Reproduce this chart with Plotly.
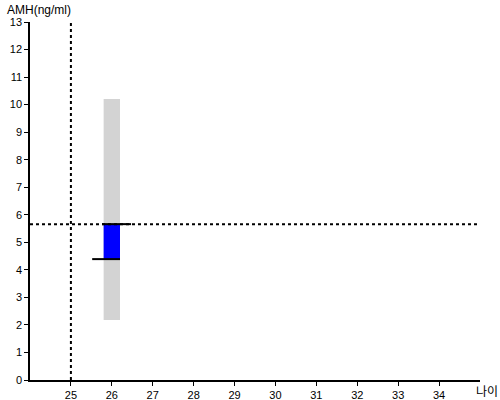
import plotly.graph_objects as go

# AMH chart data
ages = [26]
ref_low = [2.18]
ref_high = [10.2]
amh_low = [4.39]
amh_high = [5.66]

current_age = 25
current_amh = 5.66

# short marker lines at the top and bottom of the blue bar
top_line_x = [25.76, 26.47]
top_line_y = [5.66, 5.66]
bottom_line_x = [25.52, 26.2]
bottom_line_y = [4.39, 4.39]

x_ticks = list(range(25, 35))
y_ticks = list(range(0, 14))

fig = go.Figure()

# reference range (grey)
fig.add_trace(go.Bar(x=ages, y=[h - l for h, l in zip(ref_high, ref_low)], base=ref_low,
                     width=0.4, marker=dict(color='#d3d3d3', line=dict(width=0)),
                     showlegend=False, hoverinfo='skip'))
# own range (blue)
fig.add_trace(go.Bar(x=ages, y=[h - l for h, l in zip(amh_high, amh_low)], base=amh_low,
                     width=0.4, marker=dict(color='#0000ff', line=dict(width=0)),
                     showlegend=False, hoverinfo='skip'))

fig.add_trace(go.Scatter(x=top_line_x, y=top_line_y, mode='lines',
                         line=dict(color='black', width=2), showlegend=False))
fig.add_trace(go.Scatter(x=bottom_line_x, y=bottom_line_y, mode='lines',
                         line=dict(color='black', width=2), showlegend=False))

# dotted guide lines
fig.add_trace(go.Scatter(x=[current_age, current_age], y=[0, 13], mode='lines',
                         line=dict(color='black', width=2, dash='dot'), showlegend=False))
fig.add_trace(go.Scatter(x=[24, 35], y=[current_amh, current_amh], mode='lines',
                         line=dict(color='black', width=2, dash='dot'), showlegend=False))

fig.update_layout(
    width=500, height=400,
    margin=dict(l=30, r=20, t=22, b=20),
    plot_bgcolor='white', paper_bgcolor='white',
    barmode='overlay',
    font=dict(family='Liberation Sans, Arial', size=11, color='black'),
    xaxis=dict(range=[24, 35], tickvals=x_ticks, showgrid=False, zeroline=False,
               showline=True, linecolor='black', linewidth=1.5, automargin=False,
               ticks='outside', ticklen=4, tickcolor='black'),
    yaxis=dict(range=[0, 13], tickvals=y_ticks, showgrid=False, zeroline=False,
               showline=True, linecolor='black', linewidth=1.5, automargin=False,
               ticks='outside', ticklen=4, tickcolor='black'),
    annotations=[
        dict(text='AMH(ng/ml)', x=0, y=1.0, xref='paper', yref='paper',
             xanchor='left', yanchor='bottom', showarrow=False, font=dict(size=12),
             xshift=-25, yshift=3),
        dict(text='나이', x=1.0, y=0, xref='paper', yref='paper',
             xanchor='left', yanchor='top', showarrow=False,
             font=dict(size=12, family='Noto Sans CJK KR'), xshift=-6, yshift=0),
    ],
)

# drop the page's default body margin so the figure fills the window
fig.write_html("out.html", config={'displayModeBar': False},
               post_script="document.body.style.margin='0px';")
